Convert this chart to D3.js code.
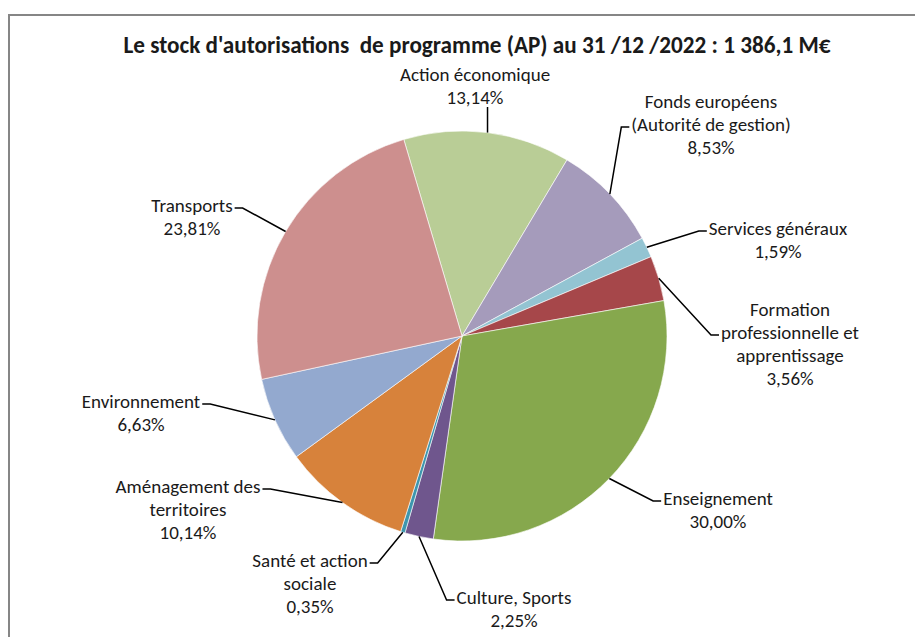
<!DOCTYPE html>
<html>
<head>
<meta charset="utf-8">
<script src="https://cdn.jsdelivr.net/npm/d3@7"></script>
<style>
  body { margin: 0; background: #fff; }
  text { font-family: Carlito, Calibri, "Liberation Sans", Arial, sans-serif; fill: #1a1a1a; }
</style>
</head>
<body>
<div id="chart"></div>
<script>
var categories = ["Action économique", "Fonds européens\n(Autorité de gestion)", "Services généraux",
    "Formation\nprofessionnelle et\napprentissage", "Enseignement", "Culture, Sports",
    "Santé et action\nsociale", "Aménagement des\nterritoires", "Environnement", "Transports"];
var values = [13.14, 8.53, 1.59, 3.56, 30.00, 2.25, 0.35, 10.14, 6.63, 23.81];
var colors = ["#b9cd96", "#a59bbb", "#93c4d2", "#a6474a", "#86a84d", "#6f568d", "#3d96ae", "#d7823b", "#93a9cf", "#cd8f8e"];
var title = "Le stock d'autorisations  de programme (AP) au 31 /12 /2022 : 1 386,1 M€";

// label layout: centre x, first line y, which side the leader attaches to, line index
var labelPos = [
    { x: 475, y: 74, side: "bottom", line: 1 },
    { x: 711, y: 101, side: "left", line: 1 },
    { x: 778, y: 228, side: "left", line: 0 },
    { x: 790, y: 309, side: "left", line: 1 },
    { x: 718, y: 498, side: "left", line: 0 },
    { x: 514, y: 597, side: "left", line: 0 },
    { x: 310, y: 560, side: "right", line: 0 },
    { x: 188, y: 486, side: "right", line: 0 },
    { x: 141, y: 401, side: "right", line: 0 },
    { x: 192, y: 205, side: "right", line: 0 }
];

var width = 915, height = 637;
var cx = 462, cy = 336, radius = 205;
var lineH = 23;

var svg = d3.select("#chart").append("svg")
    .attr("width", width)
    .attr("height", height);

// chart frame (runs off the right and bottom of the picture)
svg.append("rect")
    .attr("x", 9).attr("y", 15)
    .attr("width", 960).attr("height", 700)
    .attr("fill", "none")
    .attr("stroke", "#868686")
    .attr("stroke-width", 2);

svg.append("text")
    .attr("x", 477)
    .attr("y", 53)
    .attr("text-anchor", "middle")
    .style("font-size", "23.2px")
    .style("font-weight", "bold")
    .style("white-space", "pre")
    .text(title);

var data = categories.map(function(c, i) { return { name: c, value: values[i], color: colors[i], pos: labelPos[i] }; });

var startA = -16.5 * Math.PI / 180;
var pie = d3.pie()
    .value(function(d) { return d.value; })
    .sort(null)
    .startAngle(startA)
    .endAngle(startA + 2 * Math.PI);

var arc = d3.arc().innerRadius(0).outerRadius(radius);

var g = svg.append("g").attr("transform", "translate(" + cx + "," + cy + ")");

var arcs = pie(data);

g.selectAll("path.slice")
    .data(arcs)
    .enter().append("path")
    .attr("class", "slice")
    .attr("d", arc)
    .attr("fill", function(d) { return d.data.color; })
    .attr("stroke", "#fff")
    .attr("stroke-width", 0.6);

// labels
arcs.forEach(function(d) {
    var p = d.data.pos;
    var lines = d.data.name.split("\n");
    lines.push(d.data.value.toFixed(2).replace(".", ",") + "%");
    var t = svg.append("text")
        .attr("text-anchor", "middle")
        .style("font-size", "19px");
    var spans = [];
    lines.forEach(function(l, i) {
        spans.push(t.append("tspan")
            .attr("x", p.x)
            .attr("y", p.y + i * lineH)
            .attr("dy", "0.35em")
            .text(l));
    });

    var mid = (d.startAngle + d.endAngle) / 2;
    var ax = cx + radius * Math.sin(mid), ay = cy - radius * Math.cos(mid);
    var pts;
    if (p.side === "bottom") {
        var by = p.y + p.line * lineH + 10;
        pts = [[ax, by], [ax, ay]];
    } else {
        var w = spans[p.line].node().getComputedTextLength();
        var ly = p.y + p.line * lineH + 3;
        var ex = p.side === "left" ? p.x - w / 2 - 2 : p.x + w / 2 + 2;
        var ex2 = p.side === "left" ? ex - 8 : ex + 8;
        pts = [[ex, ly], [ex2, ly], [ax, ay]];
    }
    svg.append("path")
        .attr("d", d3.line()(pts))
        .attr("fill", "none")
        .attr("stroke", "#000")
        .attr("stroke-width", 1.5);
});
</script>
</body>
</html>
